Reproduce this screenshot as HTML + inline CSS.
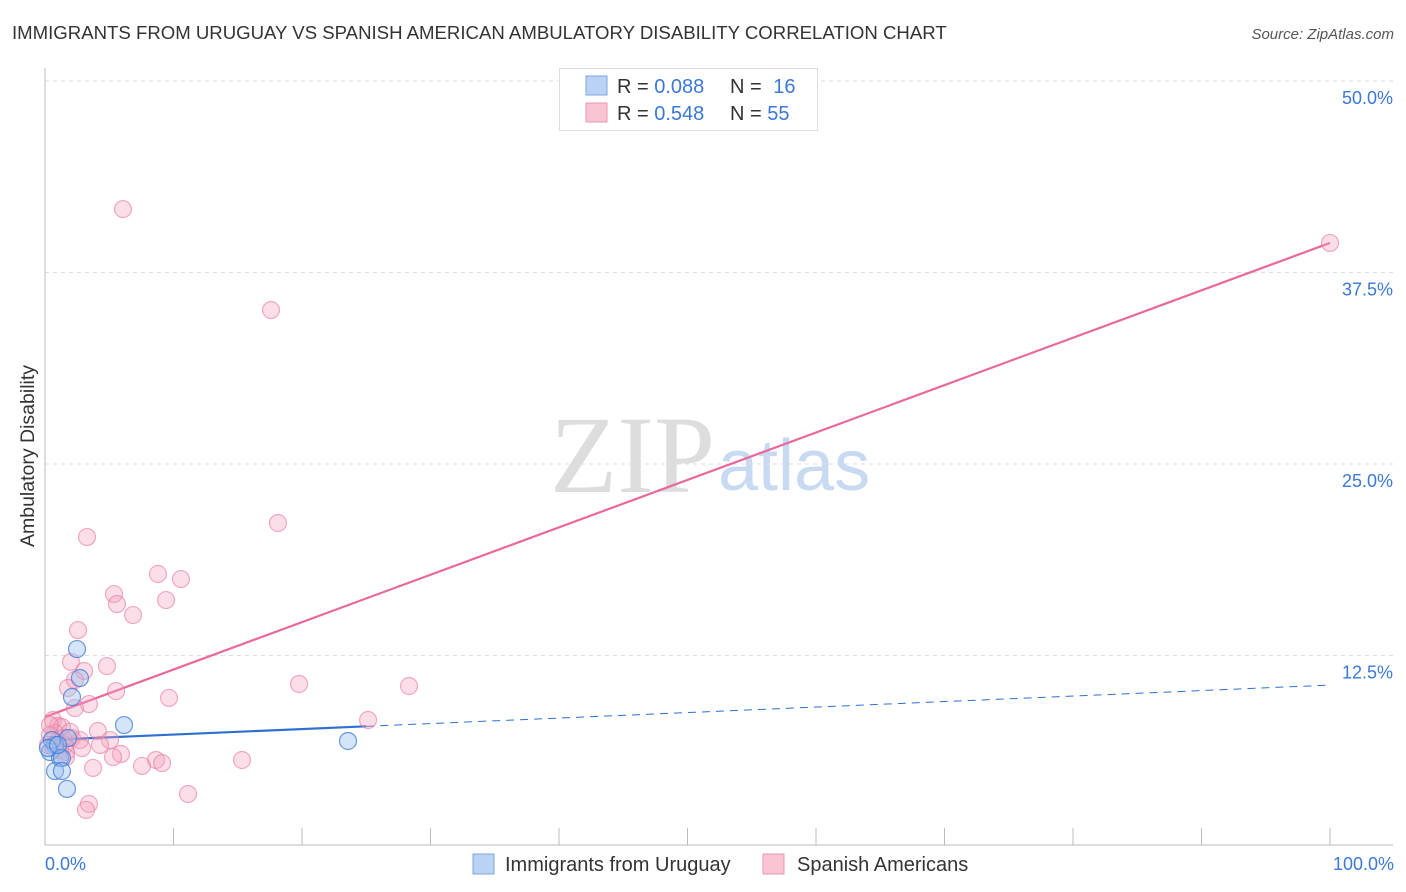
<!DOCTYPE html>
<html><head><meta charset="utf-8"><style>
body{margin:0;background:#fff;font-family:"Liberation Sans",sans-serif;}
svg{display:block}
</style></head><body>
<svg id="chart" width="1406" height="892">
<text x="12" y="39" font-size="18.6" fill="#333">IMMIGRANTS FROM URUGUAY VS SPANISH AMERICAN AMBULATORY DISABILITY CORRELATION CHART</text>
<text x="1394" y="39" font-size="15" fill="#555" font-style="italic" text-anchor="end">Source: ZipAtlas.com</text>
<text x="715" y="492" font-size="110" fill="#ddd" font-family="Liberation Serif" text-anchor="end">ZIP</text>
<text x="718" y="490" font-size="72" fill="#c8daf2">atlas</text>
<g id="grid"></g>
<g id="axes"></g>
<g id="trends"></g>
<g id="points"></g>
<text transform="translate(34,456) rotate(-90)" font-size="19.5" fill="#333" text-anchor="middle">Ambulatory Disability</text>
<text x="45" y="870" font-size="18" fill="#3b78d8">0.0%</text>
<text x="1394" y="870" font-size="18" fill="#3b78d8" text-anchor="end">100.0%</text>
<g>
<rect x="559.5" y="68.5" width="258" height="62" fill="#fff" stroke="#ddd"/>
<rect x="586" y="76" width="21" height="19" fill="#b9d2f5" stroke="#7fa6e0"/>
<rect x="586" y="103" width="21" height="19" fill="#f9c5d5" stroke="#ee94b2"/>
<text x="617" y="93" font-size="20" fill="#333">R = <tspan fill="#3b78d8">0.088</tspan></text>
<text x="730" y="93" font-size="20" fill="#333">N = <tspan fill="#3b78d8" dx="6">16</tspan></text>
<text x="617" y="120" font-size="20" fill="#333">R = <tspan fill="#3b78d8">0.548</tspan></text>
<text x="730" y="120" font-size="20" fill="#333">N = <tspan fill="#3b78d8">55</tspan></text>
</g>
<g>
<rect x="473" y="854" width="21" height="20" fill="#b9d2f5" stroke="#7fa6e0"/>
<text x="505" y="871" font-size="20" fill="#333">Immigrants from Uruguay</text>
<rect x="763" y="854" width="21" height="20" fill="#f9c5d5" stroke="#ee94b2"/>
<text x="797" y="871" font-size="20" fill="#333">Spanish Americans</text>
</g>
</svg>
<script>
const yTicks=[12.5,25,37.5,50];
const yTickLabels=["12.5%","25.0%","37.5%","50.0%"];
const uruguayX=[2.49,2.72,2.10,6.15,23.58,1.79,0.78,0.39,1.17,1.32,0.78,1.32,1.71,0.54,0.23,1.01];
const uruguayY=[12.92,11.03,9.79,7.96,6.92,7.11,6.66,6.20,5.81,5.81,4.96,4.96,3.79,6.98,6.46,6.66];
const spanishX=[6.07,17.59,18.13,3.27,8.79,10.58,5.37,5.60,9.42,6.85,2.57,2.02,4.82,3.04,2.33,1.79,5.53,19.77,28.33,9.65,3.42,2.33,0.62,1.01,1.32,25.14,0.78,4.12,5.06,4.28,2.10,2.72,1.56,1.17,0.39,1.63,2.88,5.91,5.29,8.64,9.11,7.55,15.33,3.74,1.63,11.13,3.42,3.19,0.39,0.93,0.23,1.40,1.95,100,0.70];
const spanishY=[41.64,35.05,21.15,20.23,17.82,17.49,16.51,15.86,16.12,15.14,14.16,12.08,11.81,11.49,10.90,10.38,10.18,10.64,10.51,9.73,9.33,9.07,8.29,7.90,7.83,8.29,7.44,7.57,6.98,6.66,7.11,6.98,6.66,6.33,7.31,6.20,6.46,6.07,5.87,5.68,5.48,5.29,5.68,5.16,5.87,3.46,2.81,2.42,7.96,6.85,6.66,7.11,7.51,39.43,6.46];
const uruguayTrend=[6.98,0.0359]; // intercept, slope
const spanishTrend=[8.49,0.3094];
const uruguayTrendSolidEnd=25;

const sx=v=>45+v*12.85, sy=v=>847-v*15.32;
const NS="http://www.w3.org/2000/svg";
function mk(tag,attrs,parent){const e=document.createElementNS(NS,tag);for(const k in attrs)e.setAttribute(k,attrs[k]);parent.appendChild(e);return e;}
const grid=document.getElementById('grid'),axes=document.getElementById('axes'),tr=document.getElementById('trends'),pts=document.getElementById('points');
yTicks.forEach((t,i)=>{
 const l=mk('line',{x1:45,x2:1393,y1:sy(t),y2:sy(t),stroke:'#ddd','stroke-dasharray':'4,4'},grid);
 
 
 const tx=mk('text',{x:1393,y:sy(t)+23,'font-size':18,fill:'#3b78d8','text-anchor':'end'},grid);
 tx.textContent=yTickLabels[i];
 
 
});
const ya=mk('line',{x1:45,x2:45,y1:68,y2:845,stroke:'#bbb'},axes);


const xa=mk('line',{x1:45,x2:1393,y1:845,y2:845,stroke:'#bbb'},axes);


for(let i=1;i<=10;i++){const t=mk('line',{x1:sx(i*10),x2:sx(i*10),y1:828,y2:845,stroke:'#bbb'},axes);
 
 }
function dot(x,y,fill,stroke,name){const c=mk('circle',{cx:sx(x),cy:sy(y),r:8.5,fill:fill,stroke:stroke,'stroke-width':1.2},pts);
 
 }
spanishX.forEach((x,i)=>dot(x,spanishY[i],'rgba(244,160,188,0.35)','rgba(232,120,160,0.6)','point-spanish'));
uruguayX.forEach((x,i)=>dot(x,uruguayY[i],'rgba(150,190,240,0.4)','rgba(60,120,215,0.75)','point-uruguay'));
const f=(p,x)=>p[0]+p[1]*x;
const pl=mk('line',{x1:sx(0),y1:sy(f(spanishTrend,0)),x2:sx(100),y2:sy(f(spanishTrend,100)),stroke:'#e8699a','stroke-width':2.2},tr);


const bl=mk('line',{x1:sx(0),y1:sy(f(uruguayTrend,0)),x2:sx(uruguayTrendSolidEnd),y2:sy(f(uruguayTrend,uruguayTrendSolidEnd)),stroke:'#2f6fd0','stroke-width':2.2},tr);


const bd=mk('line',{x1:sx(uruguayTrendSolidEnd),y1:sy(f(uruguayTrend,uruguayTrendSolidEnd)),x2:sx(100),y2:sy(f(uruguayTrend,100)),stroke:'#2f6fd0','stroke-width':1,'stroke-dasharray':'8,6'},tr);


</script>
</body></html>
